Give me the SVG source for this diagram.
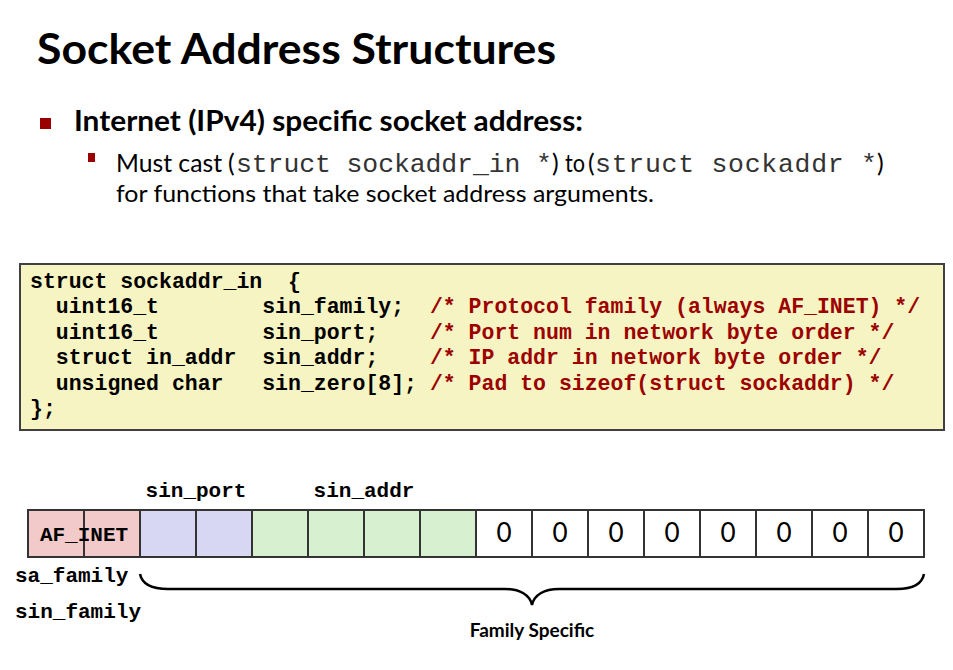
<svg xmlns="http://www.w3.org/2000/svg" width="953" height="670" viewBox="0 0 953 670">
<style>
.sans{font-family:Lato,"Open Sans","Liberation Sans",sans-serif;fill:#000}
.b{font-weight:bold}
.mono{font-family:"Liberation Mono","DejaVu Sans Mono",monospace}
.code{font-family:"Liberation Mono","DejaVu Sans Mono",monospace;font-weight:bold;font-size:21.5px;fill:#000}
.cm{fill:#9C0000}
.lbl{font-family:"Liberation Mono","DejaVu Sans Mono",monospace;font-weight:bold;font-size:21px;fill:#000}
.cell{stroke:#333;stroke-width:2}
.zero{font-family:Lato,"Open Sans","Liberation Sans",sans-serif;font-size:26px;fill:#000;text-anchor:middle}
</style>
<rect width="953" height="670" fill="#fff"/>
<g id="title">
<text class="sans b" x="37" y="64" font-size="42" textLength="519" lengthAdjust="spacingAndGlyphs">Socket Address Structures</text>
</g>
<g id="bullet1">
<rect x="40" y="118" width="11" height="11" fill="#990000"/>
<text class="sans b" x="74" y="131" font-size="29" textLength="509" lengthAdjust="spacingAndGlyphs">Internet (IPv4) specific socket address:</text>
</g>
<g id="bullet2">
<rect x="88" y="153" width="7" height="9" fill="#990000"/>
<text class="sans" x="116" y="172" font-size="25" textLength="106" lengthAdjust="spacingAndGlyphs">Must cast</text>
<text class="sans" x="228" y="172" font-size="25">(</text>
<text class="mono" x="236" y="172" font-size="26.5" fill="#333" textLength="316" lengthAdjust="spacing">struct sockaddr_in *</text>
<text class="sans" x="552" y="172" font-size="25">)</text>
<text class="sans" x="565" y="172" font-size="25" textLength="20" lengthAdjust="spacingAndGlyphs">to</text>
<text class="sans" x="588" y="172" font-size="25">(</text>
<text class="mono" x="595" y="172" font-size="26.5" fill="#333" textLength="282" lengthAdjust="spacing">struct sockaddr *</text>
<text class="sans" x="877" y="172" font-size="25">)</text>
<text class="sans" x="116" y="202" font-size="24" textLength="538" lengthAdjust="spacingAndGlyphs">for functions that take socket address arguments.</text>
</g>
<g id="code-box">
<rect x="20" y="264" width="924" height="166" fill="#F6F4C3" stroke="#404040" stroke-width="2"/>
<text class="code" y="287.5"><tspan x="30">struct sockaddr_in</tspan><tspan x="288">{</tspan></text>
<text class="code" y="313"><tspan x="55.8">uint16_t</tspan><tspan x="262.2">sin_family;</tspan><tspan x="429.9" class="cm">/* Protocol family (always AF_INET) */</tspan></text>
<text class="code" y="338.5"><tspan x="55.8">uint16_t</tspan><tspan x="262.2">sin_port;</tspan><tspan x="429.9" class="cm">/* Port num in network byte order */</tspan></text>
<text class="code" y="364"><tspan x="55.8">struct in_addr</tspan><tspan x="262.2">sin_addr;</tspan><tspan x="429.9" class="cm">/* IP addr in network byte order */</tspan></text>
<text class="code" y="389.5"><tspan x="55.8">unsigned char</tspan><tspan x="262.2">sin_zero[8];</tspan><tspan x="429.9" class="cm">/* Pad to sizeof(struct sockaddr) */</tspan></text>
<text class="code" y="415" x="30">};</text>
</g>
<g id="field-family">
<rect class="cell" x="28" y="510" width="56" height="47" fill="#F3CACA"/>
<rect class="cell" x="84" y="510" width="56" height="47" fill="#F3CACA"/>
<text class="lbl" x="84" y="541" text-anchor="middle">AF_INET</text>
</g>
<g id="field-port">
<rect class="cell" x="140" y="510" width="56" height="47" fill="#D7D7F3"/>
<rect class="cell" x="196" y="510" width="56" height="47" fill="#D7D7F3"/>
<text class="lbl" x="196" y="497" text-anchor="middle">sin_port</text>
</g>
<g id="field-addr">
<rect class="cell" x="252" y="510" width="56" height="47" fill="#D7F1D0"/>
<rect class="cell" x="308" y="510" width="56" height="47" fill="#D7F1D0"/>
<rect class="cell" x="364" y="510" width="56" height="47" fill="#D7F1D0"/>
<rect class="cell" x="420" y="510" width="56" height="47" fill="#D7F1D0"/>
<text class="lbl" x="364" y="497" text-anchor="middle">sin_addr</text>
</g>
<g id="field-zero">
<rect class="cell" x="476" y="510" width="56" height="47" fill="#fff"/>
<rect class="cell" x="532" y="510" width="56" height="47" fill="#fff"/>
<rect class="cell" x="588" y="510" width="56" height="47" fill="#fff"/>
<rect class="cell" x="644" y="510" width="56" height="47" fill="#fff"/>
<rect class="cell" x="700" y="510" width="56" height="47" fill="#fff"/>
<rect class="cell" x="756" y="510" width="56" height="47" fill="#fff"/>
<rect class="cell" x="812" y="510" width="56" height="47" fill="#fff"/>
<rect class="cell" x="868" y="510" width="56" height="47" fill="#fff"/>
<text class="zero" x="504" y="542">0</text>
<text class="zero" x="560" y="542">0</text>
<text class="zero" x="616" y="542">0</text>
<text class="zero" x="672" y="542">0</text>
<text class="zero" x="728" y="542">0</text>
<text class="zero" x="784" y="542">0</text>
<text class="zero" x="840" y="542">0</text>
<text class="zero" x="896" y="542">0</text>
</g>
<g id="labels">
<text class="lbl" x="15" y="582">sa_family</text>
<text class="lbl" x="15" y="618">sin_family</text>
<text class="sans b" x="532" y="637" font-size="19" text-anchor="middle">Family Specific</text>
</g>
<g id="connectors">
<path d="M140,574 C142,584 152,589 168,589 L505,589 C520,589 530,595 532,605 C534,595 544,589 559,589 L897,589 C912,589 922,584 924,574" fill="none" stroke="#000" stroke-width="2.5"/>
</g>
</svg>
